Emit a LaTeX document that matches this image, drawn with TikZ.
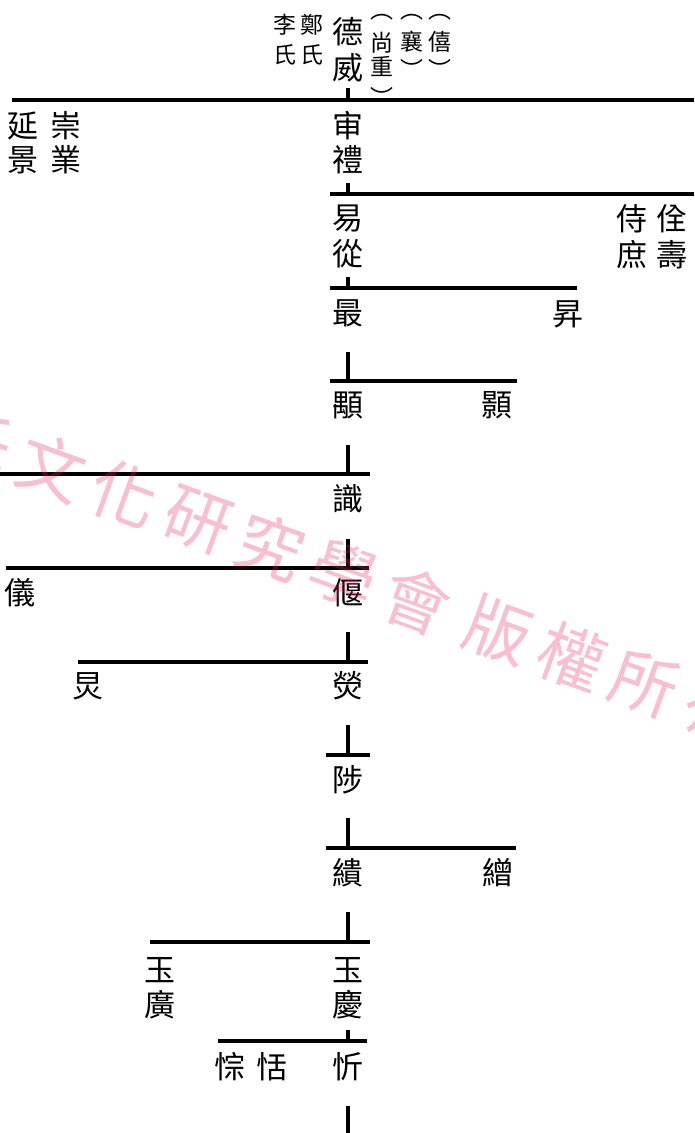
\documentclass[tikz,border=0pt]{standalone}
\usepackage{fontspec}
\newfontfamily\cjk{Noto Sans CJK TC}
\definecolor{wmpink}{RGB}{235,40,100}
\newcommand\cjb[1]{\hbox to 1em{\hss\rule[-0.12em]{0pt}{1em}#1\hss}}
\newcommand\vtwo[3][4pt]{\vbox{\offinterlineskip\cjb{#2}\kern#1\cjb{#3}}}
\begin{document}
\begin{tikzpicture}[x=1pt,y=-1pt,
  nm/.style={inner sep=0pt, font=\cjk\fontsize{31}{31}\selectfont},
  sm/.style={inner sep=0pt, font=\cjk\fontsize{23}{23}\selectfont},
  bar/.style={line width=3.8pt},
  stub/.style={line width=3.2pt},
  wm/.style={inner sep=0pt, font=\cjk\fontsize{67}{67}\selectfont, text=wmpink, text opacity=0.3, rotate=-20}]
\useasboundingbox (0,0) rectangle (694,1133);
% ---- top generation
\node[nm] (dw) at (348,50) {\vtwo[5pt]{德}{威}};
\node[sm] (li) at (285,40) {\vtwo[7pt]{李}{氏}};
\node[sm] (zh) at (312,40) {\vtwo[7pt]{鄭}{氏}};
\node[sm] (sz) at (382,55) {\vtwo[1pt]{尚}{重}};
\node[sm] (szt) at (382,17) {︵};
\node[sm] (szb) at (382,97) {︶};
\node[sm] (xi) at (412,42) {\cjb{襄}};
\node[sm] (xit) at (412,17) {︵};
\node[sm] (xib) at (412,69) {︶};
\node[sm] (xx) at (440,42) {\cjb{僖}};
\node[sm] (xxt) at (440,17) {︵};
\node[sm] (xxb) at (440,69) {︶};
% ---- generation 2
\node[nm] (sl) at (348,143) {\vtwo[3pt]{审}{禮}};
\node[nm] (yj) at (23,143) {\vtwo[3pt]{延}{景}};
\node[nm] (cy) at (66,143) {\vtwo[3pt]{崇}{業}};
% ---- generation 3
\node[nm] (yc) at (348,236) {\vtwo[5pt]{易}{從}};
\node[nm] (ss) at (632,237) {\vtwo[5pt]{侍}{庶}};
\node[nm] (qs) at (672,237) {\vtwo[5pt]{佺}{壽}};
% ---- generation 4
\node[nm] (zui) at (348,313) {\cjb{最}};
\node[nm] (sheng) at (568,314) {\cjb{昇}};
% ---- generation 5
\node[nm] (yong) at (348,405) {\cjb{顒}};
\node[nm] (hao) at (497,405) {\cjb{顥}};
% ---- generation 6
\node[nm] (shi) at (348,499) {\cjb{識}};
% ---- generation 7
\node[nm] (yan) at (348,593) {\cjb{偃}};
\node[nm] (yi) at (20,593) {\cjb{儀}};
% ---- generation 8
\node[nm] (ying) at (348,686) {\cjb{熒}};
\node[nm] (jiong) at (88,686) {\cjb{炅}};
% ---- generation 9
\node[nm] (zhi) at (348,780) {\cjb{陟}};
% ---- generation 10
\node[nm] (hui) at (348,873) {\cjb{繢}};
\node[nm] (zeng) at (498,873) {\cjb{繒}};
% ---- generation 11
\node[nm] (yq) at (348,987) {\vtwo[4pt]{玉}{慶}};
\node[nm] (yg) at (160,987) {\vtwo[4pt]{玉}{廣}};
% ---- generation 12
\node[nm] (xin) at (348,1067) {\cjb{忻}};
\node[nm] (cong) at (230,1067) {\cjb{悰}};
\node[nm] (tian) at (272,1067) {\cjb{恬}};
% ---- bar end points
\coordinate (b1l) at (12,100);  \coordinate (b1r) at (694,100);
\coordinate (b2l) at (330,194); \coordinate (b2r) at (694,194);
\coordinate (b3l) at (330,288); \coordinate (b3r) at (577,288);
\coordinate (b4l) at (330,381); \coordinate (b4r) at (517,381);
\coordinate (b5l) at (0,474);   \coordinate (b5r) at (370,474);
\coordinate (b6l) at (6,568);   \coordinate (b6r) at (369,568);
\coordinate (b7l) at (78,662);  \coordinate (b7r) at (368,662);
\coordinate (b8l) at (326,755); \coordinate (b8r) at (370,755);
\coordinate (b9l) at (326,848); \coordinate (b9r) at (516,848);
\coordinate (b10l) at (150,942); \coordinate (b10r) at (370,942);
\coordinate (b11l) at (218,1041); \coordinate (b11r) at (367,1041);
% ---- stub tops and junctions
\coordinate (t1) at (348,88);   \coordinate (j1) at (348,100);
\coordinate (t2) at (348,183);  \coordinate (j2) at (348,194);
\coordinate (t3) at (348,277);  \coordinate (j3) at (348,288);
\coordinate (t4) at (348,352);  \coordinate (j4) at (348,381);
\coordinate (t5) at (348,445);  \coordinate (j5) at (348,474);
\coordinate (t6) at (348,539);  \coordinate (j6) at (348,568);
\coordinate (t7) at (348,632);  \coordinate (j7) at (348,662);
\coordinate (t8) at (348,725);  \coordinate (j8) at (348,755);
\coordinate (t9) at (348,818);  \coordinate (j9) at (348,848);
\coordinate (t10) at (348,912); \coordinate (j10) at (348,942);
\coordinate (t11) at (348,1030); \coordinate (j11) at (348,1041);
\coordinate (t12) at (348,1106); \coordinate (j12) at (348,1133);
% ---- connectors
\foreach \k in {1,...,11}{
  \draw[bar] (b\k l) -- (b\k r);
}
\foreach \k in {1,...,12}{
  \draw[stub] (t\k) -- (j\k);
}
% ---- watermark
\begin{scope}
\clip (0,0) rectangle (694,1133);
\foreach \c/\i/\n in {氏/-1/wa,文/0/wb,化/1/wc,研/2/wd,究/3/we,學/4/wf,會/5/wg,版/6.13/wh,權/7.13/wi,所/8.13/wj,有/9.13/wk}{
  \node[wm] (\n) at ({52+72.9*\i},{468+26.5*\i}) {\c};
}
\end{scope}
\end{tikzpicture}
\end{document}
